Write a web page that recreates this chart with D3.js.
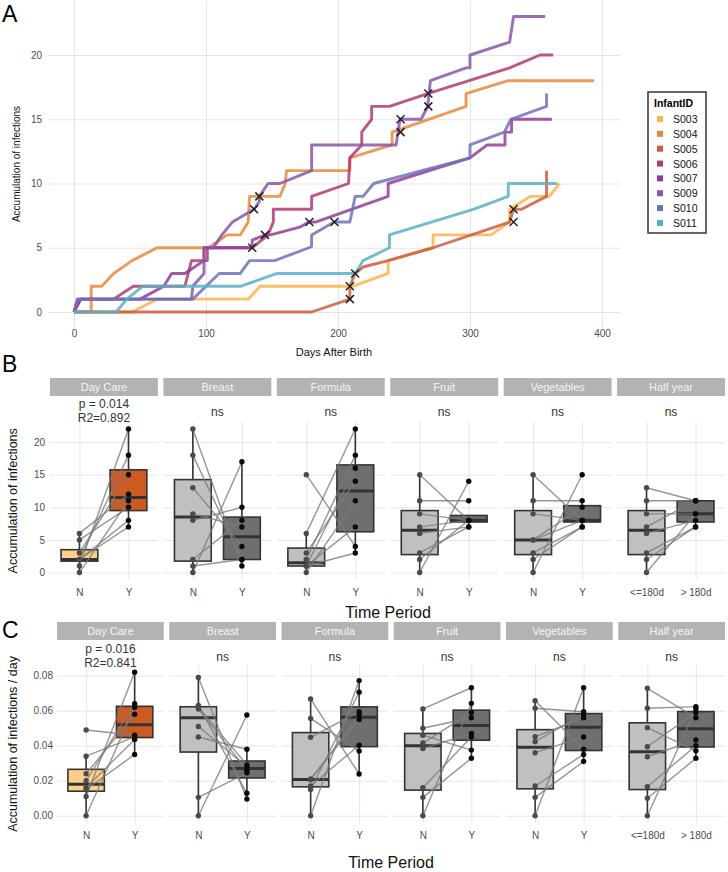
<!DOCTYPE html>
<html><head><meta charset="utf-8">
<script src="https://cdn.jsdelivr.net/npm/d3@7"></script>
<style>
body{margin:0;background:#fff;}
text{font-family:"Liberation Sans",Arial,Helvetica,sans-serif;}
</style>
</head><body>
<svg id="chart" width="728" height="872"></svg>
<script>
// ---------------- DATA ----------------
const infantIDs = ["S003","S004","S005","S006","S007","S009","S010","S011"];
const infantColors = ["#FDB44B","#E98A3A","#CF5B3F","#B23A6E","#963A98","#8A55AA","#6B73B8","#58B0C8"];

// panel A: [day, accumulated infections]
const s003 = [[0,0],[44,0],[63,1],[132,1],[141,2],[211,2],[238,3],[238,4],[272,5],[272,6],[316,6],[330,7],[330,8],[346,9],[360,9],[368,10]];
const s004 = [[0,0],[13,0],[13,2],[21,2],[30,3],[44,4],[63,5],[102,5],[116,6],[126,6],[132,7],[133,9],[156,9],[160,10],[161,11],[209,11],[209,12],[241,13],[241,14],[297,16],[297,17],[329,18],[394,18]];
const s005 = [[0,0],[180,0],[209,1],[209,2],[213,3],[219,3.5],[238,4],[272,5],[330,7],[333,8],[339,8],[358,9],[358,11]];
const s006 = [[0,0],[5,1],[30,1],[45,2],[84,2],[89,4],[101,4],[101,5],[127,5],[135,5],[147,6],[151,7],[151,8],[180,8],[180,9],[208,10],[209,12],[218,13],[218,14],[225.5,15],[225.5,16],[239,16],[268,17],[330,19],[353,20],[363,20]];
const s007 = [[0,0],[5,1],[50,1],[68,2],[74,3],[84,3],[98.5,4],[98.5,5],[127,5],[135,5],[135,5.6],[145,6],[149,6],[171,6.6],[178,7],[183,7],[238,9],[238,10],[300,12],[313,13],[326.5,13],[326.5,14],[331.5,14],[331.5,15],[362,15]];
const s009 = [[0,0],[2.5,1],[89,1],[90,2],[98.5,3],[98.5,5],[105.5,5],[112,6],[120,7],[136.4,8],[140.4,8.6],[140.4,9],[147,10],[156,10],[180,11],[180,13],[244,13],[247,15],[263,15],[268,16],[270,18],[297,19],[300,19],[300,20],[330,21],[333,23],[357,23]];
const s010 = [[0,0],[3,1],[90,1],[100,2],[110,3],[126,3],[133,4],[152,4],[178,5],[180,5.1],[180,6],[197,7],[209,7],[213,9],[219,9],[227,10],[300,12],[300,13],[326,14],[331,15],[358,16],[358,17]];
const s011 = [[0,0],[32,0],[40,1],[52,2],[126,2],[154,3],[213,3],[219,4],[239,5],[239,6],[303,8],[329,9],[329,10],[366,10]];
const infantSeries = [s003,s004,s005,s006,s007,s009,s010,s011];
const infectionMarks = [[135,5],[136.4,8],[140.4,9],[144.7,6],[178.3,7],[197.3,7],[209,1],[209,2],[213,3],[247.4,14],[247.4,15],[268.4,16],[268.4,17],[333,7],[333,8]];
const dayTicks = [0,100,200,300,400];
const countTicksA = [0,5,10,15,20];

// panels B & C
const facetNames = ["Day Care","Breast","Formula","Fruit","Vegetables","Half year"];
const groupKeys = ["N","Y"];
const groupLabels = [["N","Y"],["N","Y"],["N","Y"],["N","Y"],["N","Y"],["<=180d","> 180d"]];
const testLabels = [["p = 0.014","R2=0.892"],["ns"],["ns"],["ns"],["ns"],["ns"]];
const testLabelsRate = [["p = 0.016","R2=0.841"],["ns"],["ns"],["ns"],["ns"],["ns"]];
// infant order as infantIDs
const countN = [
  [2,3,0,2,5,1,6,2],
  [2,8,0,18,9,22,13,1],
  [1,3,0,15,1,6,2,1],
  [3,7,0,15,9,11,6,2],
  [3,5,0,15,9,11,5,2],
  [3,7,0,13,9,11,6,2]
];
const countY = [
  [8,15,11,18,10,22,12,7],
  [8,10,17,2,7,1,4,2],
  [7,14,11,4,16,22,18,3],
  [7,8,14,8,8,11,7,8],
  [7,10,15,8,8,11,8,7],
  [7,11,9,11,9,11,8,7]
];
const rateN = [
  [0.016,0.024,0,0.020,0.034,0.011,0.049,0.015],
  [0.051,0.045,0,0.079,0.061,0.063,0.062,0.0105],
  [0.017,0.0205,0,0.0667,0.021,0.0556,0.0448,0.015],
  [0.0384,0.0415,0,0.061,0.046,0.05,0.016,0.0105],
  [0.036,0.0423,0,0.0657,0.0451,0.0614,0.017,0.0105],
  [0.0337,0.0394,0,0.0728,0.0503,0.0614,0.0166,0.01]
];
const rateY = [
  [0.0436,0.058,0.062,0.064,0.045,0.082,0.046,0.035],
  [0.028,0.038,0.0575,0.0095,0.026,0.0128,0.029,0.0245],
  [0.0403,0.0575,0.0772,0.0238,0.055,0.037,0.0594,0.0705],
  [0.047,0.059,0.0642,0.0731,0.0375,0.056,0.045,0.0328],
  [0.045,0.058,0.0731,0.038,0.056,0.0594,0.035,0.031],
  [0.0433,0.059,0.061,0.056,0.0371,0.0623,0.040,0.0328]
];
const countTicksB = [0,5,10,15,20];
const rateTicksC = [0,0.02,0.04,0.06,0.08];
const boxFillsFirst = ["#FDD08A","#CC5A22"];
const boxFillsOther = ["#C0C0C0","#6F6F6F"];

// ---------------- DRAW ----------------
const svg = d3.select("#chart");
const gridColor = "#E2E2E2";
const tickText = "#4D4D4D";

function styleAxis(g, fs){
  g.select(".domain").remove();
  g.selectAll(".tick line").attr("stroke", gridColor).attr("stroke-width", 0.9);
  g.selectAll(".tick text").attr("fill", tickText).attr("font-size", fs);
}

// ---- Panel A ----
const xA = d3.scaleLinear().domain([0,400]).range([74,602]);
const yA = d3.scaleLinear().domain([0,20]).range([312,55]);
const gA = svg.append("g");
gA.append("g").attr("transform","translate(48,0)")
  .call(d3.axisLeft(yA).tickValues(countTicksA).tickSize(-572).tickPadding(6))
  .call(g=>styleAxis(g,10));
gA.append("g").attr("transform","translate(0,327)")
  .call(d3.axisBottom(xA).tickValues(dayTicks).tickSize(-325).tickPadding(3))
  .call(g=>styleAxis(g,10));

const lineA = d3.line().x(d=>xA(d[0])).y(d=>yA(d[1]));
gA.selectAll(".inf").data(infantSeries).join("path")
  .attr("d", lineA).attr("fill","none")
  .attr("stroke",(d,i)=>infantColors[i]).attr("stroke-width",2.9)
  .attr("stroke-opacity",0.85).attr("stroke-linejoin","round");

gA.selectAll(".mk").data(infectionMarks).join("path")
  .attr("d", d=>{const x=xA(d[0]), y=yA(d[1]), s=4;
    return `M${x-s},${y-s}L${x+s},${y+s}M${x-s},${y+s}L${x+s},${y-s}`;})
  .attr("stroke","#222").attr("stroke-width",1.5).attr("fill","none");

svg.append("text").attr("x",2).attr("y",22).attr("font-size",23).text("A");
svg.append("text").attr("transform","translate(20,164) rotate(-90)")
  .attr("text-anchor","middle").attr("font-size",10).attr("fill","#111").text("Accumulation of infections");
svg.append("text").attr("x",334).attr("y",356).attr("text-anchor","middle")
  .attr("font-size",11).attr("fill","#111").text("Days After Birth");

// legend
const lg = svg.append("g");
lg.append("rect").attr("x",648).attr("y",92).attr("width",58).attr("height",141)
  .attr("fill","#fff").attr("stroke","#333").attr("stroke-width",1.5);
lg.append("text").attr("x",654).attr("y",107).attr("font-size",10.5).attr("font-weight","bold").text("InfantID");
const li = lg.selectAll(".li").data(infantIDs).join("g")
  .attr("transform",(d,i)=>`translate(0,${119 + i*14.85})`);
li.append("rect").attr("x",657).attr("y",-3).attr("width",6).attr("height",6)
  .attr("fill",(d,i)=>infantColors[i]);
li.append("text").attr("x",673).attr("y",4).attr("font-size",10.5).attr("fill","#111").text(d=>d);

// ---- Facet panels ----
function boxStats(vals){
  const s = vals.slice().sort(d3.ascending);
  const q1 = d3.quantile(s,0.25), q2 = d3.quantile(s,0.5), q3 = d3.quantile(s,0.75);
  const iqr = q3-q1;
  const lo = d3.min(s.filter(v=>v>=q1-1.5*iqr));
  const hi = d3.max(s.filter(v=>v<=q3+1.5*iqr));
  return {q1,q2,q3,lo,hi};
}

function drawFacetRow(o){
  const W = (o.right - o.left - 5*o.gap)/6;
  const yS = d3.scaleLinear().domain(o.domain).range([o.bottom,o.top]);
  facetNames.forEach((name,fi)=>{
    const x0 = o.left + fi*(W+o.gap);
    const g = svg.append("g");
    const xS = d3.scalePoint().domain(groupKeys).range([x0,x0+W]).padding(0.6);
    const step = xS.step();
    const ya = g.append("g").attr("transform",`translate(${x0},0)`)
      .call(d3.axisLeft(yS).tickValues(o.ticks).tickFormat(o.fmt).tickSize(-W).tickPadding(o.ypad))
      .call(gg=>styleAxis(gg,10));
    if(fi>0) ya.selectAll(".tick text").remove();
    g.append("g").attr("transform",`translate(0,${o.bottom})`)
      .call(d3.axisBottom(xS).tickFormat((d,i)=>groupLabels[fi][i]).tickSize(-(o.bottom-o.top)).tickPadding(o.xpad))
      .call(gg=>styleAxis(gg,10));
    g.append("rect").attr("x",x0).attr("y",o.stripTop).attr("width",W).attr("height",18).attr("fill","#B3B3B3");
    g.append("text").attr("x",x0+W/2).attr("y",o.stripTop+13).attr("text-anchor","middle")
      .attr("font-size",11).attr("fill","#F5F5F5").text(name);
    const lab = o.labels[fi];
    if(lab.length===2){
      lab.forEach((t,k)=>g.append("text").attr("x",x0+W/2).attr("y",o.pY+k*13.5)
        .attr("text-anchor","middle").attr("font-size",12).attr("fill","#333").text(t));
    } else {
      g.append("text").attr("x",x0+W/2).attr("y",o.nsY).attr("text-anchor","middle")
        .attr("font-size",12).attr("fill","#333").text(lab[0]);
    }
    const groups = [o.nVals[fi], o.yVals[fi]];
    const fills = fi===0 ? boxFillsFirst : boxFillsOther;
    groups.forEach((vals,gi)=>{
      const st = boxStats(vals);
      const cx = xS(groupKeys[gi]);
      const bw = step*0.75;
      g.append("line").attr("x1",cx).attr("x2",cx).attr("y1",yS(st.hi)).attr("y2",yS(st.q3))
        .attr("stroke","#333").attr("stroke-width",1.6);
      g.append("line").attr("x1",cx).attr("x2",cx).attr("y1",yS(st.q1)).attr("y2",yS(st.lo))
        .attr("stroke","#333").attr("stroke-width",1.6);
      g.append("rect").attr("x",cx-bw/2).attr("width",bw)
        .attr("y",yS(st.q3)).attr("height",Math.max(1,yS(st.q1)-yS(st.q3)))
        .attr("fill",fills[gi]).attr("stroke","#333").attr("stroke-width",1.6);
      g.append("line").attr("x1",cx-bw/2).attr("x2",cx+bw/2).attr("y1",yS(st.q2)).attr("y2",yS(st.q2))
        .attr("stroke","#333").attr("stroke-width",3);
    });
    const xN = xS("N"), xY = xS("Y");
    g.selectAll(".pl").data(d3.range(infantIDs.length)).join("line")
      .attr("x1",xN).attr("x2",xY)
      .attr("y1",i=>yS(groups[0][i])).attr("y2",i=>yS(groups[1][i]))
      .attr("stroke","#7A7A7A").attr("stroke-opacity",0.8).attr("stroke-width",1.4);
    groups.forEach((vals,gi)=>{
      g.selectAll(".pt"+gi).data(vals).join("circle")
        .attr("cx",xS(groupKeys[gi])).attr("cy",d=>yS(d)).attr("r",2.7)
        .attr("fill", gi===0 ? "#4A4A4A" : "#0A0A0A");
    });
  });
  svg.append("text").attr("x",o.titleX).attr("y",o.titleY).attr("text-anchor","middle")
    .attr("font-size",16).attr("fill","#111").text("Time Period");
  svg.append("text").attr("transform",`translate(17,${(o.top+o.bottom)/2}) rotate(-90)`)
    .attr("text-anchor","middle").attr("font-size",12.5).attr("fill","#111").text(o.yTitle);
  svg.append("text").attr("x",2).attr("y",o.letterY).attr("font-size",23).text(o.letter);
}

drawFacetRow({
  left:50, right:725, gap:5.5, top:421.9, bottom:579.7, domain:[-1.1,23.1],
  ticks:countTicksB, fmt:d3.format("d"), ypad:5, xpad:9, stripTop:378,
  labels:testLabels, pY:408, nsY:416, nVals:countN, yVals:countY,
  titleX:388, titleY:618, yTitle:"Accumulation of infections", letter:"B", letterY:372
});
drawFacetRow({
  left:57, right:725, gap:5.5, top:665, bottom:822.9, domain:[-0.0041,0.0861],
  ticks:rateTicksC, fmt:d3.format(".2f"), ypad:4, xpad:8.6, stripTop:622,
  labels:testLabelsRate, pY:653, nsY:661, nVals:rateN, yVals:rateY,
  titleX:391, titleY:868, yTitle:"Accumulation of infections / day", letter:"C", letterY:638
});
</script>
</body></html>
